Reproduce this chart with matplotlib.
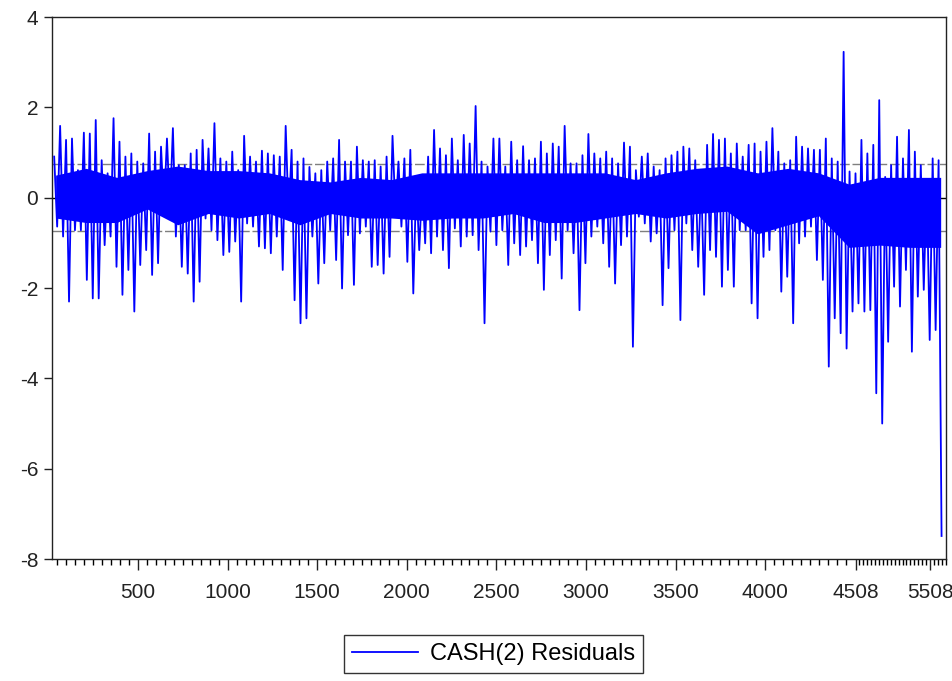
import matplotlib.pyplot as plt
import numpy as np

plt.rcParams['font.family'] = ['Liberation Sans', 'DejaVu Sans']
plt.rcParams['axes.unicode_minus'] = False

# residual extremes, in order, roughly every 30 obs (high, low)
resid_hi = [0.91, 1.59, 1.28, 1.31, 0.61, 1.44, 1.42, 1.72, 0.83, 0.54, 1.76, 1.24, 0.91, 0.98, 0.80,
            0.76, 1.42, 1.02, 1.13, 1.31, 1.54, 0.72, 0.72, 0.98, 1.06,
            1.28, 1.09, 1.65, 0.87, 0.80, 1.02, 0.61, 1.37, 0.91, 0.80, 1.04, 0.98, 0.94, 0.91, 1.59,
            1.06, 0.80, 0.87, 0.68, 0.54, 0.61, 0.80, 0.87, 1.28, 0.80,
            0.80, 1.13, 0.83, 0.80, 0.83, 0.69, 0.91, 1.37, 0.80, 0.87, 1.06, 0.39, 0.32, 0.91, 1.50,
            1.09, 0.94, 1.31, 0.83, 1.39, 1.20, 2.03, 0.80, 0.69, 1.31,
            1.31, 0.69, 1.24, 0.83, 1.14, 0.83, 0.87, 1.24, 0.98, 1.20, 1.13, 1.59, 0.76, 0.76, 0.94,
            1.41, 0.98, 0.87, 1.02, 0.87, 0.76, 1.22, 1.13, 0.61, 0.91,
            0.98, 0.69, 0.61, 0.87, 0.94, 1.02, 1.13, 1.09, 0.83, 0.46, 1.17, 1.41, 1.28, 1.31, 0.98,
            1.20, 0.91, 1.17, 1.20, 1.02, 1.24, 1.54, 1.02, 0.76, 0.83,
            1.35, 1.13, 1.09, 1.06, 1.06, 1.31, 0.87, 0.80, 3.23, 0.58, 0.54, 1.28, 0.98, 1.17, 2.16,
            0.46, 0.72, 1.35, 0.87, 1.50, 1.02, 0.72, 0.39, 0.87, 0.83]
resid_lo = [-0.64, -0.86, -2.30, -0.72, -0.72, -1.82, -2.23, -2.23, -1.05, -0.86, -1.53, -2.15, -1.60, -2.52, -1.49,
            -1.16, -1.71, -1.45, -0.24, -0.27, -0.86, -1.53, -1.68, -2.30, -1.86,
            -0.46, -0.72, -0.94, -1.27, -1.20, -0.97, -2.30, -0.57, -0.64, -1.08, -1.12, -1.23, -0.86, -1.60, -0.42,
            -2.27, -2.78, -2.67, -0.86, -1.90, -1.45, -0.72, -1.38, -2.01, -0.83,
            -1.93, -0.79, -0.64, -1.53, -1.49, -1.68, -1.31, -0.35, -0.64, -1.42, -2.12, -1.16, -1.01, -1.23, -0.86,
            -1.16, -1.56, -0.68, -1.08, -0.86, -0.83, -1.16, -2.78, -0.75, -1.05,
            -0.72, -1.49, -1.01, -1.27, -1.08, -0.94, -1.45, -2.04, -1.27, -0.94, -1.79, -0.72, -1.23, -2.49, -1.45,
            -0.86, -0.64, -1.01, -1.53, -1.90, -1.05, -0.86, -3.30, -0.42, -0.57,
            -0.97, -0.79, -2.38, -1.56, -0.72, -2.71, -0.57, -1.16, -1.53, -2.15, -1.16, -1.31, -1.97, -1.60, -1.97,
            -0.72, -0.72, -2.34, -2.67, -1.31, -1.16, -0.72, -2.08, -1.75, -2.78,
            -1.01, -0.86, -0.64, -1.38, -1.82, -3.74, -2.67, -3.00, -3.34, -2.52, -2.34, -2.52, -2.49, -4.33, -5.00,
            -3.19, -1.97, -2.41, -1.60, -3.41, -2.19, -2.04, -3.15, -2.93, -7.49]

# dense core of the series, roughly every 165 obs
core_hi = [0.50, 0.65, 0.45, 0.60, 0.70, 0.60, 0.60, 0.55, 0.40, 0.35,
           0.45, 0.40, 0.55, 0.55, 0.55, 0.55, 0.55, 0.55, 0.55, 0.40,
           0.55, 0.65, 0.70, 0.55, 0.65, 0.55, 0.30, 0.45, 0.45, 0.45]
core_lo = [-0.45, -0.55, -0.55, -0.25, -0.60, -0.35, -0.45, -0.35, -0.60, -0.35,
           -0.45, -0.45, -0.50, -0.45, -0.45, -0.35, -0.55, -0.55, -0.45, -0.35,
           -0.45, -0.35, -0.30, -0.80, -0.60, -0.40, -1.10, -1.05, -1.10, -1.10]

se_band = 0.745

tick_pos = [500, 1000, 1500, 2000, 2500, 3000, 3500, 4000, 4505, 4921]
tick_labels = ['500', '1000', '1500', '2000', '2500', '3000', '3500', '4000', '4508', '5508']

x_first, x_last = 20, 5010

fig = plt.figure(figsize=(9.53, 6.81), dpi=100)
ax = fig.add_axes([0.0546, 0.1791, 0.9381, 0.7959])

# series: high and low of each stretch, in turn
vals = np.column_stack([resid_hi, resid_lo]).ravel()
xs = np.linspace(x_first + 12, x_last - 25, len(vals))
xc = np.linspace(x_first + 20, x_last - 30, len(core_hi))

ax.axhline(se_band, color='#7f7f7f', lw=1, ls=(0, (7, 2)), zorder=1)
ax.axhline(-se_band, color='#7f7f7f', lw=1, ls=(0, (7, 2)), zorder=1)
ax.axhline(0, color='black', lw=1, ls=(0, (7, 2)), zorder=1)

ax.fill_between(xc, core_lo, core_hi, color='#0000ff', lw=0, zorder=2)
ax.plot(xs, vals, color='#0000ff', lw=1.3, zorder=3, label='CASH(2) Residuals')

ax.set_xlim(x_first, x_last)
ax.set_ylim(-8, 4)
ax.set_yticks([-8, -6, -4, -2, 0, 2, 4])
ax.set_xticks(tick_pos)
ax.set_xticklabels(tick_labels)
minor = list(range(50, 4500, 50)) + list(range(4525, 5010, 22))
ax.set_xticks(minor, minor=True)

ax.tick_params(axis='both', which='major', direction='out', labelsize=15, colors='#222222')
ax.tick_params(axis='x', which='major', length=8, width=1, pad=9)
ax.tick_params(axis='x', which='minor', length=4, width=1)
ax.tick_params(axis='y', which='major', length=6, width=1, pad=4)
ax.tick_params(top=False, right=False)
for s in ax.spines.values():
    s.set_linewidth(1)
    s.set_color('#222222')

leg = fig.legend(loc='lower center', bbox_to_anchor=(0.518, -0.006), frameon=True,
                 fancybox=False, edgecolor='black', fontsize=17, handlelength=2.8,
                 borderpad=0.35, handletextpad=0.5)
leg.get_frame().set_linewidth(1)

fig.savefig('out.png', dpi=100)
